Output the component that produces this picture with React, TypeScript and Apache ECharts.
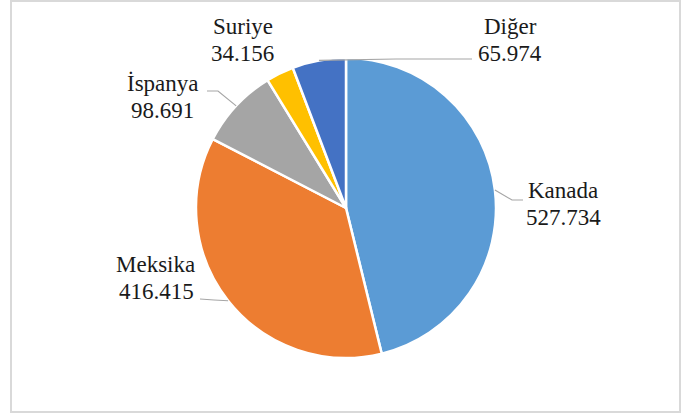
import React, { useEffect, useRef } from "react";
import * as echarts from "echarts";

const categories = ["Kanada", "Meksika", "İspanya", "Suriye", "Diğer"];
const values = [527734, 416415, 98691, 34156, 65974];
const colors = ["#5B9BD5", "#ED7D31", "#A5A5A5", "#FFC000", "#4472C4"];

// label centre positions and leader line bends/ends (annotation layout)
const labelCenters: [number, number][] = [
  [563, 204],
  [156, 278],
  [163, 97],
  [243, 40],
  [510, 40],
];
const lineBends: ([number, number] | null)[] = [
  [512, 200],
  [214, 300],
  [218, 91],
  null,
  [396, 59],
];
const lineEnds: ([number, number] | null)[] = [
  [523, 200],
  [200, 299],
  [207, 91],
  null,
  [472, 59],
];

const CX = 346;
const CY = 208;
const R = 150;
const LINE_GAP = 27;
const FONT_SIZE = 23;
const FONT_FAMILY = "Liberation Serif";

const fmt = (v: number) => String(v).replace(/\B(?=(\d{3})+(?!\d))/g, ".");

export default function App() {
  const ref = useRef<HTMLDivElement>(null);
  useEffect(() => {
    document.body.style.margin = "0";
    if (!ref.current) return;
    const chart = echarts.init(ref.current, null, { renderer: "svg" });

    const canvas = document.createElement("canvas");
    const ctx = canvas.getContext("2d");
    const measure = (t: string) => {
      if (!ctx) return t.length * FONT_SIZE * 0.5;
      ctx.font = `${FONT_SIZE}px '${FONT_FAMILY}'`;
      return ctx.measureText(t).width;
    };

    const total = values.reduce((a, b) => a + b, 0);
    let cum = 0;
    const edgePts: [number, number][] = values.map((v) => {
      const mid = ((cum + v / 2) / total) * Math.PI * 2;
      cum += v;
      return [CX + R * Math.sin(mid), CY - R * Math.cos(mid)];
    });

    const mkText = (text: string, cx: number, cy: number) => ({
      type: "text",
      x: Math.round(cx - measure(text) / 2),
      y: Math.round(cy - FONT_SIZE / 2),
      z: 10,
      silent: true,
      style: {
        text,
        fontFamily: FONT_FAMILY,
        fontSize: FONT_SIZE,
        fill: "#1a1a1a",
      },
    });

    const labelTexts: any[] = [];
    categories.forEach((name, i) => {
      const [x, y] = labelCenters[i];
      labelTexts.push(mkText(name, x, y - LINE_GAP / 2));
      labelTexts.push(mkText(fmt(values[i]), x, y + LINE_GAP / 2));
    });

    const leaders = categories
      .map((_, i) => {
        const b = lineBends[i];
        const e = lineEnds[i];
        if (!b || !e) return null;
        return {
          type: "polyline",
          z: 9,
          silent: true,
          shape: { points: [edgePts[i], b, e] },
          style: { stroke: "#a6a6a6", lineWidth: 1.2, fill: "none" },
        };
      })
      .filter(Boolean);

    chart.setOption({
      animation: false,
      graphic: [
        {
          type: "rect",
          shape: { x: 11, y: 1, width: 669, height: 411 },
          style: { fill: "none", stroke: "#d9d9d9", lineWidth: 2 },
          silent: true,
        },
        ...leaders,
        ...labelTexts,
      ],
      series: [
        {
          type: "pie",
          center: [CX, CY],
          radius: R,
          startAngle: 90,
          clockwise: true,
          itemStyle: { borderColor: "#ffffff", borderWidth: 2.5 },
          label: { show: false },
          labelLine: { show: false },
          data: categories.map((name, i) => ({
            name,
            value: values[i],
            itemStyle: { color: colors[i] },
          })),
        },
      ],
    });
    return () => chart.dispose();
  }, []);
  return <div ref={ref} style={{ width: 685, height: 414 }} />;
}
